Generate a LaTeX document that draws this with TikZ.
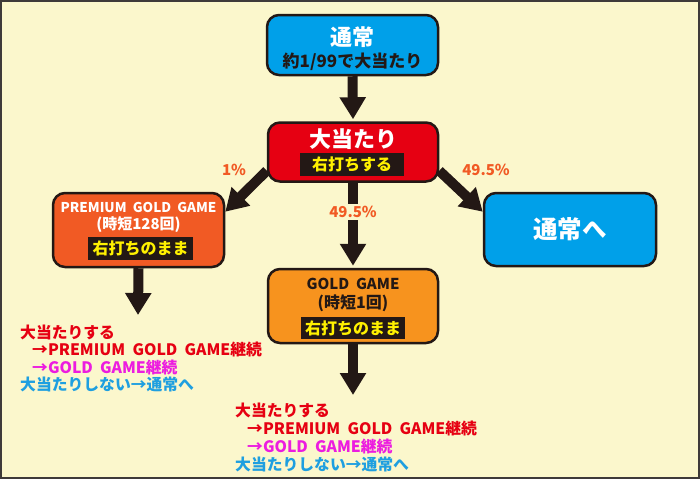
\documentclass[tikz,border=0pt]{standalone}
\usepackage{fontspec}
\setmainfont{Noto Sans CJK JP}[WordSpace=2]
\usetikzlibrary{arrows.meta,backgrounds}
\definecolor{bgcream}{HTML}{FBF7CC}
\definecolor{ink}{HTML}{231815}
\definecolor{framegray}{HTML}{3E3A39}
\definecolor{yel}{HTML}{FFF100}
\definecolor{skyblue}{HTML}{00A0E9}
\definecolor{hitred}{HTML}{E60012}
\definecolor{premorange}{HTML}{F15A24}
\definecolor{goldorange}{HTML}{F7931E}
\definecolor{pctorange}{HTML}{F15A24}
\definecolor{txtred}{HTML}{E60012}
\definecolor{txtmag}{HTML}{EC1CE0}
\definecolor{txtblue}{HTML}{1E9FE0}
\newcommand\fs[1]{\fontsize{#1}{#1}\selectfont\bfseries}
\begin{document}
\begin{tikzpicture}[x=1pt,y=-1pt,
    box/.style={draw=ink,line width=2.5pt,rounded corners=12pt,inner sep=0pt},
    strip/.style={fill=ink,text=yel,inner sep=0pt,minimum width=104pt,minimum height=23pt,font=\fs{16}},
    title/.style={text=white,font=\fs{22}},
    bigarrow/.style={draw=ink,line width=10pt,-{Triangle[width=25pt,length=22pt]}},
    pctlabel/.style={text=pctorange,font=\fs{15}},
    note/.style={anchor=west,inner sep=0pt,font=\fs{15.8}}]
    \useasboundingbox (0,0) rectangle (700,479);
    % boxes
    \node[box,fill=skyblue,minimum width=171pt,minimum height=60pt] (normal) at (352.5,45) {};
    \node[title] at (352.5,37) {通常};
    \node[text=ink,font=\fs{17}] at (352.5,62) {約1/99で大当たり};
    \node[box,fill=hitred,minimum width=170pt,minimum height=59pt] (hit) at (353,152) {};
    \node[title] at (353,139) {大当たり};
    \node[strip] at (352,164.5) {右打ちする};
    \node[box,fill=premorange,minimum width=171pt,minimum height=74pt] (prem) at (138.5,230) {};
    \node[text=white,font=\fs{13.5}] at (138.5,207) {PREMIUM GOLD GAME};
    \node[text=white,font=\fs{15}] at (138.5,225) {(時短128回)};
    \node[strip,minimum width=105pt] at (140.5,248.5) {右打ちのまま};
    \node[box,fill=skyblue,minimum width=172pt,minimum height=73pt] (back) at (570,229.5) {};
    \node[title,font=\fs{24.5}] at (570,229.5) {通常へ};
    \node[box,fill=goldorange,minimum width=170pt,minimum height=74pt] (gold) at (353,306) {};
    \node[text=ink,font=\fs{15}] at (353,284) {GOLD GAME};
    \node[text=ink,font=\fs{16}] at (353,303) {(時短1回)};
    \node[strip,minimum height=22pt] at (353,328) {右打ちのまま};
    \coordinate (premend) at (138,315);
    \coordinate (goldend) at (353,395);
    % connectors
    \begin{scope}[on background layer]
    \fill[bgcream] (0,0) rectangle (700,479);
    \draw[framegray,line width=2pt] (1,1) rectangle (699,478);
    \draw[bigarrow] (normal.south) -- ([yshift=2pt]hit.north);
    \draw[bigarrow] ([yshift=12pt]hit.south west) -- ([yshift=-20pt]prem.north east);
    \draw[bigarrow] ([yshift=12pt]hit.south east) -- ([yshift=-20pt]back.north west);
    \draw[bigarrow] (hit.south) -- ([yshift=2pt]gold.north);
    \draw[bigarrow] (prem.south) -- (premend);
    \draw[bigarrow] (gold.south) -- (goldend);
    \end{scope}
    \node[pctlabel] (pleft) at (234,170) {1\%};
    \node[pctlabel] (pright) at (486,170) {49.5\%};
    \node[pctlabel,fill=bgcream,inner sep=2pt] (pmid) at (353,212) {49.5\%};
    % notes
    \node[note,text=txtred] (lhit) at (20,332) {大当たりする};
    \node[note,text=txtred] (lprem) at (32,349) {→PREMIUM GOLD GAME継続};
    \node[note,text=txtmag] (lgold) at (32,367) {→GOLD GAME継続};
    \node[note,text=txtblue] (lmiss) at (20,384) {大当たりしない→通常へ};
    \node[note,text=txtred] (rhit) at (235,410) {大当たりする};
    \node[note,text=txtred] (rprem) at (247,428) {→PREMIUM GOLD GAME継続};
    \node[note,text=txtmag] (rgold) at (247,446) {→GOLD GAME継続};
    \node[note,text=txtblue] (rmiss) at (235,464) {大当たりしない→通常へ};
\end{tikzpicture}
\end{document}
